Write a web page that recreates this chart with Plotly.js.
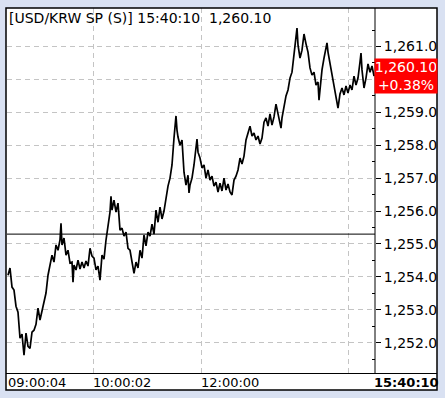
<!DOCTYPE html>
<html>
<head>
<meta charset="utf-8">
<script src="https://cdn.plot.ly/plotly-3.0.1.min.js"></script>
<style>html,body{margin:0;padding:0;background:#d9e1f2;}#chart{width:445px;height:398px;}</style>
</head>
<body>
<div id="chart"></div>
<script>
// ---- data (tick number, price) ----
const tickNo = [1,3,5,7,9,11,13,15,17,19,21,23,25,27,29,31,33,35,37,39,41,43,45,47,49,51,53,54,55,57,59,61,63,65,66,67,69,71,73,75,77,79,81,83,85,87,89,91,93,95,97,99,101,103,104,105,107,109,111,113,115,117,119,121,123,125,127,129,131,133,135,137,139,141,143,145,147,149,151,153,155,157,159,161,163,165,167,169,170,171,173,175,177,179,181,182,183,185,187,189,190,191,193,195,197,199,201,203,205,207,209,211,213,215,217,219,221,223,225,227,229,231,233,235,237,239,241,243,245,247,249,251,253,255,257,259,261,263,265,267,269,271,273,274,275,277,279,281,283,285,287,289,290,291,293,295,297,299,301,303,305,307,309,311,312,313,315,317,319,320,321,323,325,327,329,331,333,335,337,339,341,343,345,347,349,351,353,354,355,357,359,361,363,365,367];
const price = [1254.05,1254.27,1253.69,1253.60,1253.11,1252.93,1252.14,1252.26,1251.62,1252.29,1251.89,1251.83,1252.32,1252.38,1252.56,1253.05,1252.69,1252.99,1253.20,1253.51,1254.05,1254.36,1254.66,1254.45,1254.97,1254.81,1255.12,1255.63,1254.97,1255.18,1254.66,1254.81,1254.42,1254.45,1253.84,1254.36,1254.21,1254.51,1254.24,1254.45,1254.27,1254.48,1254.33,1254.87,1254.63,1254.57,1254.21,1254.33,1253.90,1254.66,1254.54,1255.12,1255.48,1255.97,1256.45,1256.03,1256.33,1255.97,1256.24,1255.42,1255.48,1255.24,1255.36,1254.87,1254.81,1254.45,1254.11,1254.45,1254.27,1254.81,1254.57,1255.27,1254.94,1255.36,1255.24,1255.60,1255.30,1256.03,1255.66,1256.12,1255.76,1256.00,1256.39,1256.76,1257.00,1257.40,1258.22,1258.89,1258.46,1258.25,1258.00,1258.16,1257.18,1256.79,1257.09,1256.55,1256.79,1257.00,1257.40,1257.85,1258.19,1257.79,1257.61,1257.31,1257.40,1257.00,1257.25,1256.94,1257.06,1256.76,1256.88,1256.58,1256.85,1256.61,1257.00,1256.64,1256.82,1256.58,1256.49,1256.94,1257.06,1257.25,1257.61,1257.43,1257.67,1258.16,1258.40,1258.58,1258.28,1258.37,1258.16,1258.28,1258.04,1258.22,1258.70,1258.83,1258.58,1258.95,1258.61,1258.86,1259.25,1258.92,1258.70,1258.52,1258.83,1259.13,1259.50,1259.68,1260.04,1260.22,1260.71,1261.20,1261.56,1261.05,1260.65,1260.89,1261.38,1261.08,1260.83,1260.35,1260.13,1260.22,1259.83,1259.92,1259.37,1259.68,1260.29,1260.65,1260.95,1261.11,1260.83,1260.47,1260.22,1259.80,1259.50,1259.13,1259.56,1259.74,1259.53,1259.80,1259.59,1259.83,1259.68,1260.10,1259.83,1260.04,1260.53,1260.80,1260.29,1259.74,1260.04,1260.47,1260.22,1260.41,1260.10];
const prevClose = 1255.30;
const lastPrice = 1260.10;
const changePct = "+0.38%";
const yTicks = [1252,1253,1254,1255,1256,1257,1258,1259,1260,1261];
const xTickIdx = [1, 86, 194, 341];
const xTickText = ["09:00:04", "10:00:02", "12:00:00", ""];
const lastTime = "15:40:10";
const titleText = "[USD/KRW SP (S)] 15:40:10\u00a0 1,260.10";

// ---- geometry helpers (plot area: x 7..375, y 8..373) ----
const W = 445, H = 398, L = 7, R = 70, T = 8, B = 25;
const PW = W - L - R, PH = H - T - B;
const px = x => (x - L) / PW;
const py = y => (H - B - y) / PH;
const FONT = "DejaVu Sans";
const BG = "#d9e1f2";
const GRID = "#c4c4c4";

const fmt = v => v.toLocaleString("en-US", {minimumFractionDigits: 2, maximumFractionDigits: 2});

const traces = [{
  x: tickNo, y: price, type: "scatter", mode: "lines",
  line: {color: "#000000", width: 1.7}, hoverinfo: "skip"
}];

const layout = {
  width: W, height: H,
  margin: {l: L, r: R, t: T, b: B, pad: 0},
  paper_bgcolor: BG, plot_bgcolor: "#ffffff",
  showlegend: false,
  title: {
    text: titleText, x: 9 / W, xanchor: "left", xref: "container",
    y: 1 - 18 / H, yanchor: "middle", yref: "container",
    font: {family: FONT, size: 14, color: "#000"}
  },
  xaxis: {
    range: [0, 368], tickmode: "array", tickvals: xTickIdx, ticktext: xTickText,
    ticklabelposition: "outside right", ticks: "", showgrid: true,
    gridcolor: GRID, griddash: "5px,4px", gridwidth: 1, zeroline: false, showline: false,
    tickfont: {family: FONT, size: 13, color: "#000"}, fixedrange: true
  },
  yaxis: {
    side: "right", range: [1251.08, 1262.17], tickmode: "array", tickvals: yTicks,
    ticktext: yTicks.map(v => v === Math.floor(lastPrice) ? "" : fmt(v)),
    ticks: "outside", ticklen: 5, tickcolor: "#000", tickwidth: 1,
    showgrid: true, gridcolor: GRID, griddash: "5px,4px", gridwidth: 1,
    zeroline: false, showline: false,
    tickfont: {family: FONT, size: 14, color: "#000"},
    minor: {tickmode: "linear", tick0: 1251.5, dtick: 1, ticks: "inside", ticklen: 3,
            tickcolor: "#000", showgrid: false},
    fixedrange: true
  },
  shapes: [
    {type: "rect", xref: "paper", yref: "paper", layer: "below",
     x0: px(6), x1: px(437), y0: py(390), y1: py(8),
     fillcolor: "#ffffff", line: {width: 0}},
    {type: "line", xref: "paper", yref: "y", x0: 0, x1: 1, y0: prevClose, y1: prevClose,
     line: {color: "#000", width: 1}},
    {type: "rect", xref: "paper", yref: "paper", layer: "above",
     x0: px(437.5), x1: px(446), y0: py(399), y1: py(-1),
     fillcolor: BG, line: {width: 0}},
    {type: "rect", xref: "paper", yref: "paper", layer: "above",
     x0: px(6), x1: px(437), y0: py(390), y1: py(8),
     line: {color: "#000", width: 1.5}},
    {type: "line", xref: "paper", yref: "paper", layer: "above",
     x0: px(375), x1: px(375), y0: py(373), y1: py(8),
     line: {color: "#000", width: 1}},
    {type: "line", xref: "paper", yref: "paper", layer: "above",
     x0: px(6), x1: px(437), y0: py(373.5), y1: py(373.5),
     line: {color: "#000", width: 1}}
  ],
  annotations: [
    {xref: "paper", yref: "paper", x: px(406), y: py(76), xanchor: "center", yanchor: "middle",
     text: fmt(lastPrice) + "<br>" + changePct, showarrow: false, align: "center",
     bgcolor: "#ff0000", width: 60, height: 32, borderpad: 1,
     font: {family: FONT, size: 14, color: "#ffffff"}},
    {xref: "paper", yref: "paper", x: px(406), y: py(382), xanchor: "center", yanchor: "middle",
     text: "<b>" + lastTime + "</b>", showarrow: false,
     font: {family: FONT, size: 13, color: "#000"}}
  ]
};

Plotly.newPlot("chart", traces, layout, {staticPlot: true, displayModeBar: false});
</script>
</body>
</html>
